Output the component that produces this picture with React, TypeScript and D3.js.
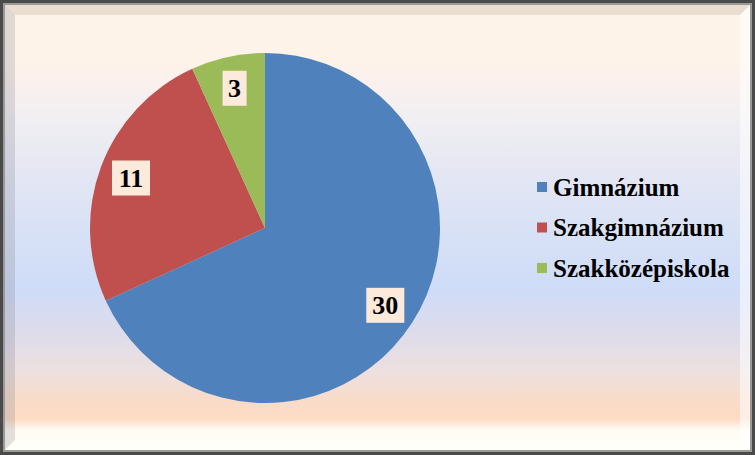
import React, { useEffect, useRef } from "react";
import * as d3 from "d3";

const categories = ["Gimnázium", "Szakgimnázium", "Szakközépiskola"];
const values = [30, 11, 3];
const colors = ["#4f81bd", "#c0504d", "#9bbb59"];

const App: React.FC = () => {
  const svgRef = useRef<SVGSVGElement | null>(null);

  useEffect(() => {
    document.body.style.margin = "0";
    drawChart();
  }, []);

  const drawChart = () => {
    const svg = d3.select(svgRef.current);
    svg.selectAll("*").remove();

    const width = 755;
    const height = 455;

    const defs = svg.append("defs");
    const bg = defs
      .append("linearGradient")
      .attr("id", "bg")
      .attr("x1", 0)
      .attr("y1", 0)
      .attr("x2", 0)
      .attr("y2", 1);
    const stops: [number, string][] = [
      [0, "#fdf3e8"],
      [0.13, "#fdf3e9"],
      [0.17, "#fbf0ee"],
      [0.25, "#f1eff2"],
      [0.38, "#e4e6f3"],
      [0.53, "#d6e1f6"],
      [0.64, "#cfdcf8"],
      [0.73, "#dcdcec"],
      [0.82, "#ece0e0"],
      [0.89, "#fadbc8"],
      [0.93, "#fddcc4"],
      [0.955, "#fffcf4"],
      [1, "#fffdf6"],
    ];
    stops.forEach(([o, c]) =>
      bg.append("stop").attr("offset", o).attr("stop-color", c)
    );

    // frame
    svg
      .append("rect")
      .attr("width", width)
      .attr("height", height)
      .attr("fill", "#4a4a4a");
    svg
      .append("rect")
      .attr("x", 3)
      .attr("y", 3)
      .attr("width", width - 6)
      .attr("height", height - 6)
      .attr("fill", "#9a9a9a");
    svg
      .append("rect")
      .attr("x", 5)
      .attr("y", 5)
      .attr("width", width - 10)
      .attr("height", height - 10)
      .attr("fill", "url(#bg)");

    // bevel
    const o = 5;
    const b = 10;
    const W = width - o;
    const H = height - o;
    const bevel = [
      { pts: [[o, o], [W, o], [W - b, o + b], [o + b, o + b]], fill: "rgba(150,120,100,0.18)" },
      { pts: [[o, o], [o + b, o + b], [o + b, H - b], [o, H]], fill: "rgba(120,120,130,0.22)" },
      { pts: [[o, H], [o + b, H - b], [W - b, H - b], [W, H]], fill: "rgba(255,255,250,0.75)" },
      { pts: [[W, o], [W, H], [W - b, H - b], [W - b, o + b]], fill: "rgba(255,255,255,0.55)" },
    ];
    svg
      .selectAll(".bevel")
      .data(bevel)
      .enter()
      .append("polygon")
      .attr("points", (d) => d.pts.map((p) => p.join(",")).join(" "))
      .attr("fill", (d) => d.fill);

    // pie
    const cx = 265;
    const cy = 228;
    const radius = 175;

    const pie = d3
      .pie<number>()
      .sort(null)
      .value((d) => d);

    const path = d3.arc<d3.PieArcDatum<number>>().innerRadius(0).outerRadius(radius);
    const label = d3.arc<d3.PieArcDatum<number>>().innerRadius(143).outerRadius(143);

    const g = svg.append("g").attr("transform", `translate(${cx},${cy})`);
    const arcs = pie(values);

    g.selectAll(".slice")
      .data(arcs)
      .enter()
      .append("path")
      .attr("d", path)
      .attr("fill", (d, i) => colors[i]);

    const lbl = g
      .selectAll(".lbl")
      .data(arcs)
      .enter()
      .append("g")
      .attr("transform", (d) => `translate(${label.centroid(d)})`);

    lbl
      .append("rect")
      .attr("x", (d) => (String(d.data).length > 1 ? -19 : -12))
      .attr("y", -17.5)
      .attr("width", (d) => (String(d.data).length > 1 ? 38 : 24))
      .attr("height", 35)
      .attr("fill", "#fdeadb");

    lbl
      .append("text")
      .attr("text-anchor", "middle")
      .attr("dy", "0.35em")
      .attr("font-family", "'Liberation Serif', 'Times New Roman', serif")
      .attr("font-weight", "bold")
      .attr("font-size", 26)
      .attr("fill", "#000")
      .text((d) => d.data);

    // legend
    const legend = svg
      .selectAll(".legend")
      .data(categories)
      .enter()
      .append("g")
      .attr("transform", (d, i) => `translate(537,${187 + i * 40.5})`);

    legend
      .append("rect")
      .attr("x", 0)
      .attr("y", -5)
      .attr("width", 10)
      .attr("height", 10)
      .attr("fill", (d, i) => colors[i]);

    legend
      .append("text")
      .attr("x", 16)
      .attr("dy", "0.35em")
      .attr("font-family", "'Liberation Serif', 'Times New Roman', serif")
      .attr("font-weight", "bold")
      .attr("font-size", 25)
      .attr("fill", "#000")
      .text((d) => d);
  };

  return <svg ref={svgRef} width="755" height="455" style={{ display: "block" }}></svg>;
};

export default App;
